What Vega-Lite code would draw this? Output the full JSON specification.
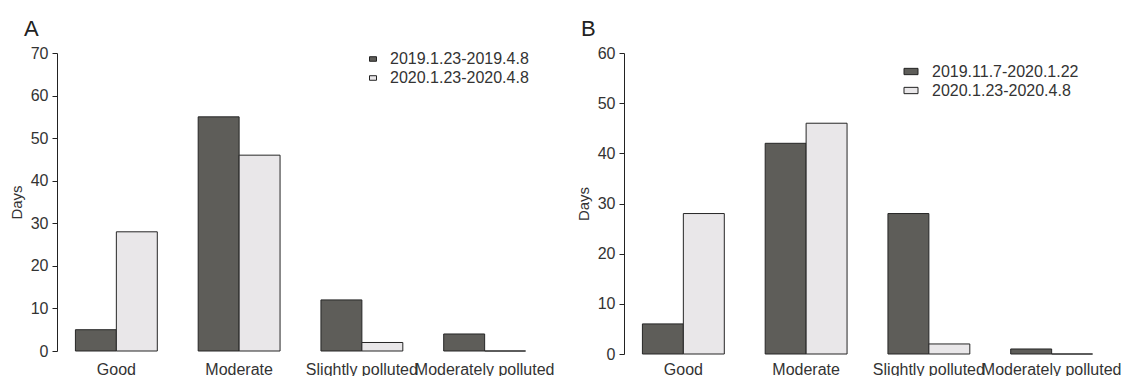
{
  "$schema": "https://vega.github.io/schema/vega-lite/v6.json",
  "padding": {"left": 9, "top": 18, "right": 0, "bottom": 0},
  "background": "white",
  "config": {
    "font": "Liberation Sans",
    "view": {"stroke": null},
    "axis": {
      "labelFont": "Liberation Sans",
      "titleFont": "Liberation Sans",
      "labelFontSize": 16,
      "labelColor": "#333333",
      "titleColor": "#333333",
      "grid": false,
      "domainColor": "#222222",
      "tickColor": "#222222"
    },
    "legend": {
      "labelFont": "Liberation Sans",
      "labelFontSize": 16,
      "labelColor": "#333333",
      "padding": 0
    },
    "title": {"font": "Liberation Sans", "fontSize": 22, "fontWeight": "normal", "anchor": "start", "color": "#222222", "frame": "group"},
    "concat": {"spacing": 22}
  },
  "datasets": {
    "a": [
      {"level": "Good", "period": "2019.1.23-2019.4.8", "days": 5},
      {"level": "Good", "period": "2020.1.23-2020.4.8", "days": 28},
      {"level": "Moderate", "period": "2019.1.23-2019.4.8", "days": 55},
      {"level": "Moderate", "period": "2020.1.23-2020.4.8", "days": 46},
      {"level": "Slightly polluted", "period": "2019.1.23-2019.4.8", "days": 12},
      {"level": "Slightly polluted", "period": "2020.1.23-2020.4.8", "days": 2},
      {"level": "Moderately polluted", "period": "2019.1.23-2019.4.8", "days": 4},
      {"level": "Moderately polluted", "period": "2020.1.23-2020.4.8", "days": 0}
    ],
    "b": [
      {"level": "Good", "period": "2019.11.7-2020.1.22", "days": 6},
      {"level": "Good", "period": "2020.1.23-2020.4.8", "days": 28},
      {"level": "Moderate", "period": "2019.11.7-2020.1.22", "days": 42},
      {"level": "Moderate", "period": "2020.1.23-2020.4.8", "days": 46},
      {"level": "Slightly polluted", "period": "2019.11.7-2020.1.22", "days": 28},
      {"level": "Slightly polluted", "period": "2020.1.23-2020.4.8", "days": 2},
      {"level": "Moderately polluted", "period": "2019.11.7-2020.1.22", "days": 1},
      {"level": "Moderately polluted", "period": "2020.1.23-2020.4.8", "days": 0}
    ]
  },
  "hconcat": [
    {
      "width": 487,
      "height": 298,
      "title": {"text": "A", "dx": -33, "offset": -13, "baseline": "alphabetic"},
      "data": {"name": "a"},
      "mark": {"type": "bar", "stroke": "#262626", "strokeWidth": 1},
      "encoding": {
        "x": {
          "field": "level", "type": "nominal",
          "sort": ["Good", "Moderate", "Slightly polluted", "Moderately polluted"],
          "scale": {"paddingInner": 0.333, "paddingOuter": 0.15},
          "axis": {"title": null, "labelAngle": 0, "domain": false, "ticks": false, "labelPadding": 10}
        },
        "xOffset": {
          "field": "period", "type": "nominal",
          "sort": ["2019.1.23-2019.4.8", "2020.1.23-2020.4.8"],
          "scale": {"paddingInner": 0, "paddingOuter": 0}
        },
        "y": {
          "field": "days", "type": "quantitative",
          "scale": {"domain": [0, 70], "nice": false},
          "axis": {"title": "Days", "values": [0, 10, 20, 30, 40, 50, 60, 70], "tickSize": 5, "labelPadding": 4, "titlePadding": 6, "titleFontSize": 15, "titleFontWeight": "normal"}
        },
        "color": {
          "field": "period", "type": "nominal",
          "scale": {"domain": ["2019.1.23-2019.4.8", "2020.1.23-2020.4.8"], "range": ["#5e5d59", "#e9e7e9"]},
          "legend": {"title": null, "orient": "none", "legendX": 308, "legendY": -2, "symbolType": "M-1,-0.65H1V0.65H-1Z", "symbolSize": 49, "labelOffset": 9, "rowPadding": 3, "symbolStrokeColor": "#222222", "symbolStrokeWidth": 1, "symbolOpacity": 1}
        }
      }
    },
    {
      "width": 487,
      "height": 301,
      "title": {"text": "B", "dx": -43, "offset": -13, "baseline": "alphabetic"},
      "data": {"name": "b"},
      "mark": {"type": "bar", "stroke": "#262626", "strokeWidth": 1},
      "encoding": {
        "x": {
          "field": "level", "type": "nominal",
          "sort": ["Good", "Moderate", "Slightly polluted", "Moderately polluted"],
          "scale": {"paddingInner": 0.333, "paddingOuter": 0.15},
          "axis": {"title": null, "labelAngle": 0, "domain": false, "ticks": false, "labelPadding": 7}
        },
        "xOffset": {
          "field": "period", "type": "nominal",
          "sort": ["2019.11.7-2020.1.22", "2020.1.23-2020.4.8"],
          "scale": {"paddingInner": 0, "paddingOuter": 0}
        },
        "y": {
          "field": "days", "type": "quantitative",
          "scale": {"domain": [0, 60], "nice": false},
          "axis": {"title": "Days", "values": [0, 10, 20, 30, 40, 50, 60], "tickSize": 5, "labelPadding": 4, "titlePadding": 6, "titleFontSize": 15, "titleFontWeight": "normal"}
        },
        "color": {
          "field": "period", "type": "nominal",
          "scale": {"domain": ["2019.11.7-2020.1.22", "2020.1.23-2020.4.8"], "range": ["#5e5d59", "#e9e7e9"]},
          "legend": {"title": null, "orient": "none", "legendX": 279, "legendY": 10.5, "symbolType": "M-1,-0.45H1V0.45H-1Z", "symbolSize": 196, "labelOffset": 13, "rowPadding": 3, "symbolStrokeColor": "#222222", "symbolStrokeWidth": 1, "symbolOpacity": 1}
        }
      }
    }
  ],
  "resolve": {
    "scale": {"color": "independent", "xOffset": "independent", "x": "independent", "y": "independent"},
    "legend": {"color": "independent"}
  }
}
